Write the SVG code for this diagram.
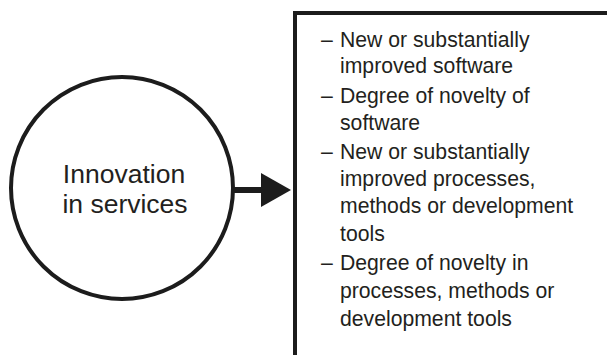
<svg xmlns="http://www.w3.org/2000/svg" width="607" height="355" viewBox="0 0 607 355">
  <style>
    .outline { fill: #ffffff; stroke: #1c1c1c; stroke-width: 4; }
    .label { font-family: "Liberation Sans", Arial, sans-serif; fill: #231f20; }
    .hub { font-size: 26.5px; text-anchor: middle; }
    .item { font-size: 21.2px; }
    .link { stroke: #1c1c1c; stroke-width: 6; fill: none; }
    .head { fill: #1c1c1c; }
  </style>

  <!-- results box, open past the right and bottom edges -->
  <g id="node-outcomes">
    <rect class="outline" x="295" y="13" width="400" height="400"/>
    <g class="label item">
      <text x="321" y="47">–</text>
      <text x="340" y="47">New or substantially</text>
      <text x="340" y="73">improved software</text>
      <text x="321" y="103">–</text>
      <text x="340" y="103">Degree of novelty of</text>
      <text x="340" y="130">software</text>
      <text x="321" y="159">–</text>
      <text x="340" y="159">New or substantially</text>
      <text x="340" y="186">improved processes,</text>
      <text x="340" y="213">methods or development</text>
      <text x="340" y="241">tools</text>
      <text x="321" y="270">–</text>
      <text x="340" y="270">Degree of novelty in</text>
      <text x="340" y="298">processes, methods or</text>
      <text x="340" y="326">development tools</text>
    </g>
  </g>

  <!-- source circle -->
  <g id="node-innovation">
    <circle class="outline" cx="122" cy="188" r="111"/>
    <text class="label hub" x="124" y="183">Innovation</text>
    <text class="label hub" x="125" y="213">in services</text>
  </g>

  <!-- connector from circle to box -->
  <g id="connectors">
    <line class="link" x1="233" y1="190" x2="263" y2="190"/>
    <polygon class="head" points="261,173 291,190 261,207"/>
  </g>
</svg>
